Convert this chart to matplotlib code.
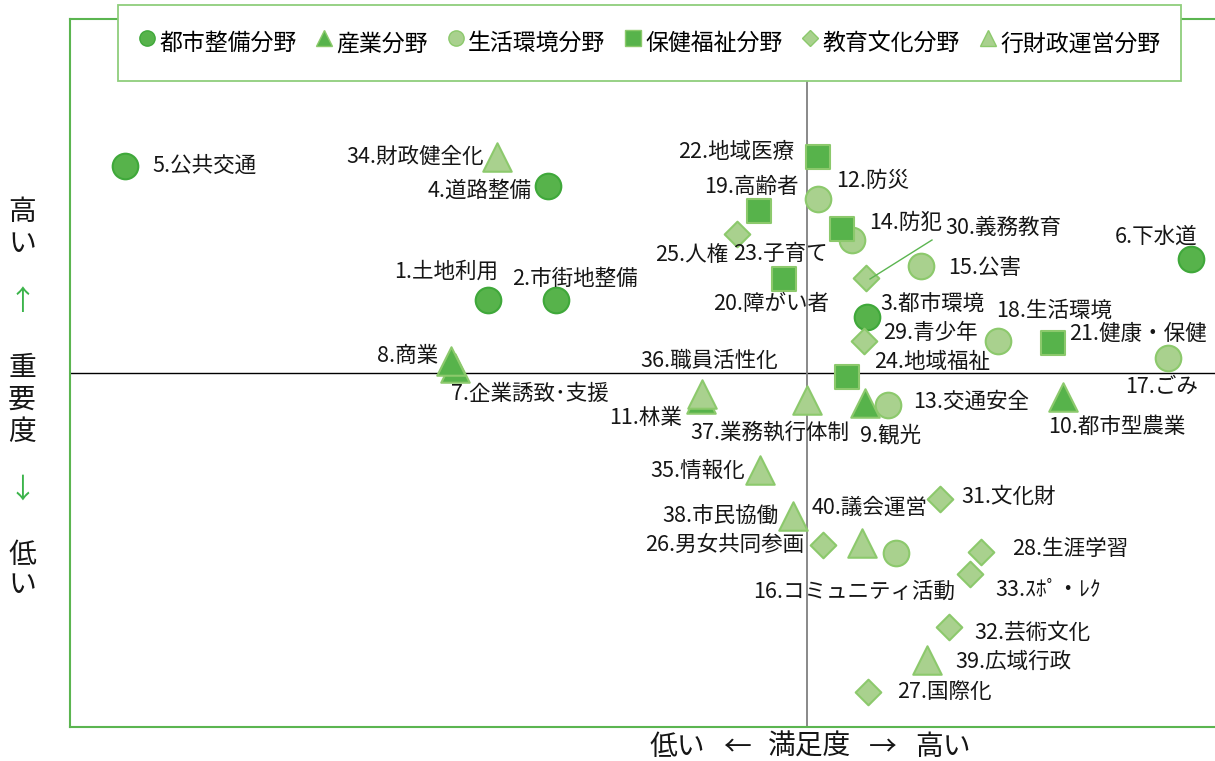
import numpy as np
import matplotlib
matplotlib.use("Agg")
import matplotlib.pyplot as plt
from matplotlib.lines import Line2D

plt.rcParams['font.family'] = ['Noto Sans CJK JP', 'DejaVu Sans']

# 施策項目（番号順）
names = ["土地利用", "市街地整備", "都市環境", "道路整備", "公共交通", "下水道",
         "企業誘致･支援", "商業", "観光", "都市型農業", "林業",
         "防災", "交通安全", "防犯", "公害", "コミュニティ活動", "ごみ", "生活環境",
         "高齢者", "障がい者", "健康・保健", "地域医療", "子育て", "地域福祉",
         "人権", "男女共同参画", "国際化", "生涯学習", "青少年", "義務教育",
         "文化財", "芸術文化", "ｽﾎﾟ・ﾚｸ",
         "財政健全化", "情報化", "職員活性化", "業務執行体制", "市民協働",
         "広域行政", "議会運営"]
groups = ["都市整備"] * 6 + ["産業"] * 5 + ["生活環境"] * 7 + ["保健福祉"] * 6 + \
         ["教育文化"] * 9 + ["行財政運営"] * 7

# 満足度・重要度（平均からの偏差）
satisfaction = [-3.19, -2.51, 0.60, -2.59, -6.82, 3.84,
                -3.52, -3.56, 0.58, 2.56, -1.06,
                0.11, 0.81, 0.45, 1.14, 0.89, 3.61, 1.91,
                -0.48, -0.23, 2.46, 0.11, 0.35, 0.40,
                -0.70, 0.16, 0.61, 1.74, 0.57, 0.59, 1.33, 1.42, 1.63,
                -3.10, -0.47, -1.05, 0.00, -0.14, 1.20, 0.55]
importance = [0.73, 0.73, 0.56, 1.87, 2.07, 1.14,
              0.05, 0.12, -0.30, -0.24, -0.26,
              1.74, -0.32, 1.33, 1.07, -1.80, 0.15, 0.32,
              1.62, 0.94, 0.30, 2.16, 1.44, -0.04,
              1.39, -1.72, -3.19, -1.79, 0.32, 0.95, -1.26, -2.54, -2.01,
              2.16, -0.97, -0.21, -0.27, -1.43, -2.87, -1.70]

# ラベルの表示位置
label_pos = [(-3.61, 1.01), (-2.32, 0.94), (1.25, 0.68), (-3.27, 1.82), (-6.03, 2.07), (3.49, 1.36),
             (-2.77, -0.21), (-3.99, 0.17), (0.84, -0.62), (3.10, -0.54), (-1.61, -0.45),
             (0.66, 1.92), (1.64, -0.29), (0.99, 1.50), (1.78, 1.05), (0.47, -2.19), (3.55, -0.14), (2.47, 0.62),
             (-0.56, 1.86), (-0.36, 0.69), (3.31, 0.39), (-0.71, 2.21), (-0.27, 1.19), (1.25, 0.11),
             (-1.15, 1.18), (-0.82, -1.72), (1.37, -3.19), (2.63, -1.76), (1.23, 0.40), (1.96, 1.45),
             (2.02, -1.24), (2.25, -2.60), (2.41, -2.17),
             (-3.92, 2.16), (-1.09, -0.98), (-0.98, 0.12), (-0.37, -0.60), (-0.87, -1.44),
             (2.06, -2.89), (0.63, -1.35)]

dark = '#57b34b'
light = '#a9d18e'
dark_edge = '#3fa83a'
light_edge = '#8cc96c'
styles = {
    "都市整備":   dict(marker='o', s=340, fc=dark, ec=dark_edge),
    "産業":       dict(marker='^', s=420, fc=dark, ec=light_edge),
    "生活環境":   dict(marker='o', s=340, fc=light, ec=light_edge),
    "保健福祉":   dict(marker='s', s=290, fc=dark, ec=light_edge),
    "教育文化":   dict(marker='D', s=170, fc=light, ec=light_edge),
    "行財政運営": dict(marker='^', s=420, fc=light, ec=light_edge),
}
order = ["都市整備", "産業", "生活環境", "保健福祉", "教育文化", "行財政運営"]

fig = plt.figure(figsize=(12.15, 7.61), dpi=100)
ax = fig.add_axes([70 / 1215, 34 / 761, 1145 / 1215, 708 / 761])
ax.set_xlim(-7.37, 4.08)
ax.set_ylim(-3.54, 3.54)
ax.set_xticks([])
ax.set_yticks([])
for side in ['left', 'bottom', 'top']:
    ax.spines[side].set_color('#5bb550')
    ax.spines[side].set_linewidth(1.5)
ax.spines['right'].set_visible(False)

ax.axhline(0, color='black', lw=1.0, zorder=1)
ax.axvline(0, color='#808080', lw=1.3, zorder=1)

sat = np.array(satisfaction)
imp = np.array(importance)
grp = np.array(groups)
for k, g in enumerate(order):
    st = styles[g]
    m = grp == g
    ax.scatter(sat[m], imp[m], marker=st['marker'], s=st['s'], facecolor=st['fc'],
               edgecolor=st['ec'], linewidth=1.5, zorder=3 + k)

for i, name in enumerate(names):
    lx, ly = label_pos[i]
    ax.text(lx, ly, f"{i + 1}.{name}", fontsize=15.5, ha='center', va='center',
            color='#161616', zorder=10)

# 30.義務教育の引出線
ax.plot([0.63, 1.25], [0.94, 1.33], color='#5bb550', lw=1.0, zorder=9)

handles = []
for g in order:
    st = styles[g]
    handles.append(Line2D([], [], linestyle='none', marker=st['marker'],
                          markersize=11 if st['marker'] != 'D' else 8,
                          markerfacecolor=st['fc'], markeredgecolor=st['ec'],
                          markeredgewidth=1.0))
leg = ax.legend(handles, [g + "分野" for g in order], ncol=6, loc='upper left',
                bbox_to_anchor=(118 / 1215, 1 - 5 / 761), bbox_transform=fig.transFigure,
                fontsize=16.5, frameon=True, fancybox=False, framealpha=1,
                edgecolor='#8fce7c', handlelength=0.7, handleheight=1.95,
                handletextpad=0.2, columnspacing=0.85, borderpad=0.9, borderaxespad=0)
leg.get_frame().set_linewidth(1.3)

# 横軸の説明
xlabel_parts = [("低い", 677), ("←", 737), ("満足度", 810), ("→", 883), ("高い", 943)]
for txt, px in xlabel_parts:
    fig.text(px / 1215, 1 - 747 / 761, txt, fontsize=20, ha='center', va='center',
             color='#161616')

# 縦軸の説明
ylabel_chars = [("高", 212, '#161616'), ("い", 244, '#161616'), ("↑", 302, '#3cb44b'),
                ("重", 368, '#161616'), ("要", 400, '#161616'), ("度", 432, '#161616'),
                ("↓", 490, '#3cb44b'), ("低", 555, '#161616'), ("い", 585, '#161616')]
for ch, py, c in ylabel_chars:
    fig.text(22 / 1215, 1 - py / 761, ch, fontsize=20, ha='center', va='center', color=c)

fig.savefig("out.png", dpi=100)
